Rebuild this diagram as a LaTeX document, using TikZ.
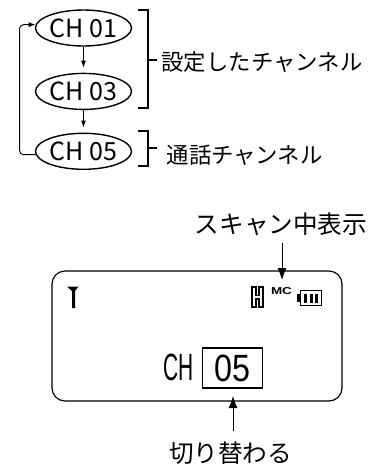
\documentclass[tikz,border=0pt]{standalone}
\usepackage{fontspec}
\setmainfont{Noto Sans CJK JP}
\newfontfamily\lcdfont{Liberation Sans}
\usetikzlibrary{shapes.geometric}
\usetikzlibrary{arrows.meta}

\begin{document}
\begin{tikzpicture}[x=1pt,y=-1pt,line width=1.2pt,
  chan/.style={ellipse,draw,line width=1.4pt,minimum width=96pt,minimum height=36pt,inner sep=0pt,text height=18pt,text depth=0pt,font=\fontsize{25}{25}\selectfont},
  note/.style={inner sep=0pt,font=\fontsize{22.4}{22.4}\selectfont},
  bignote/.style={font=\fontsize{24.6}{24.6}\selectfont},
  smallarrow/.style={-{Latex[length=7pt,width=5pt]},line width=0.9pt},
  bigarrow/.style={-{Latex[length=12pt,width=9pt]},line width=1pt}]
\useasboundingbox (0,0) rectangle (379,467);

\node [chan] (ch01) at (83.5,28) {CH 01};
\node [chan,below=26pt,at=(ch01.south)] (ch03) {CH 03};
\node [chan,below=22.5pt,at=(ch03.south)] (ch05) {CH 05};
\node [note,anchor=west] (setch) at (161,62) {設定したチャンネル};
\node [note,anchor=west] (talkch) at (166,155) {通話チャンネル};

\draw [smallarrow,shorten >=5pt] (ch01) -- (ch03);
\draw [smallarrow,shorten >=5pt] (ch03) -- (ch05);
\draw [smallarrow,rounded corners=4pt] (ch05.184) -- ++(-16,0) |- (ch01.176);

% brackets
\draw (138,10) -- (148,10) -- (148,108) -- (138,108) (148,60) -- (157,60);
\draw (138,131) -- (148,131) -- (148,166) -- (138,166) (148,148) -- (157,148);

% display
\node [draw,rounded corners=13pt,minimum width=290pt,minimum height=130pt] (lcd) at (197,336) {};
\fill (67,286.5) -- (78.5,286.5) -- (75,291) -- (75,308) -- (72,308) -- (72,291) -- cycle;
\draw [line width=1.3pt] (252,287) -- (256,287) -- (256,295.5) -- (259,295.5) -- (259,287) -- (263,287) -- (263,307) -- (259,307) -- (259,299) -- (256,299) -- (256,307) -- (252,307) -- cycle;
\node [inner sep=0pt,xscale=1.35,font=\lcdfont\bfseries\fontsize{10}{10}\selectfont] (mc) at (281.5,291) {MC};
\draw [line width=1.1pt] (300.5,290.5) rectangle (321.5,305.5);
\fill (297,294) rectangle (300.5,302);
\foreach \i in {0,1,2}
  \fill (304+\i*5.5,293.5) rectangle (307+\i*5.5,302.5);
\node [inner sep=0pt,xscale=0.55,font=\lcdfont\fontsize{38}{38}\selectfont] (chtxt) at (178.5,367) {CH};
\node [draw,line width=1.1pt,minimum width=60pt,minimum height=40pt,inner sep=0pt] (chbox) at (232.5,368) {};
\node [inner sep=0pt,xscale=0.85,font=\lcdfont\fontsize{38}{38}\selectfont] (chnum) at (chbox) {05};

\node [bignote,inner sep=6.5pt] (scan) at (281,224) {スキャン中表示};
\coordinate (scanmark) at (282,280);
\draw [bigarrow] (scan.south -| scanmark) -- (scanmark);
\node [bignote,inner sep=10.5pt] (switch) at (230.5,453) {切り替わる};
\coordinate (switchmark) at (233,396);
\draw [bigarrow] (switch.north -| switchmark) -- (switchmark);
\end{tikzpicture}
\end{document}
